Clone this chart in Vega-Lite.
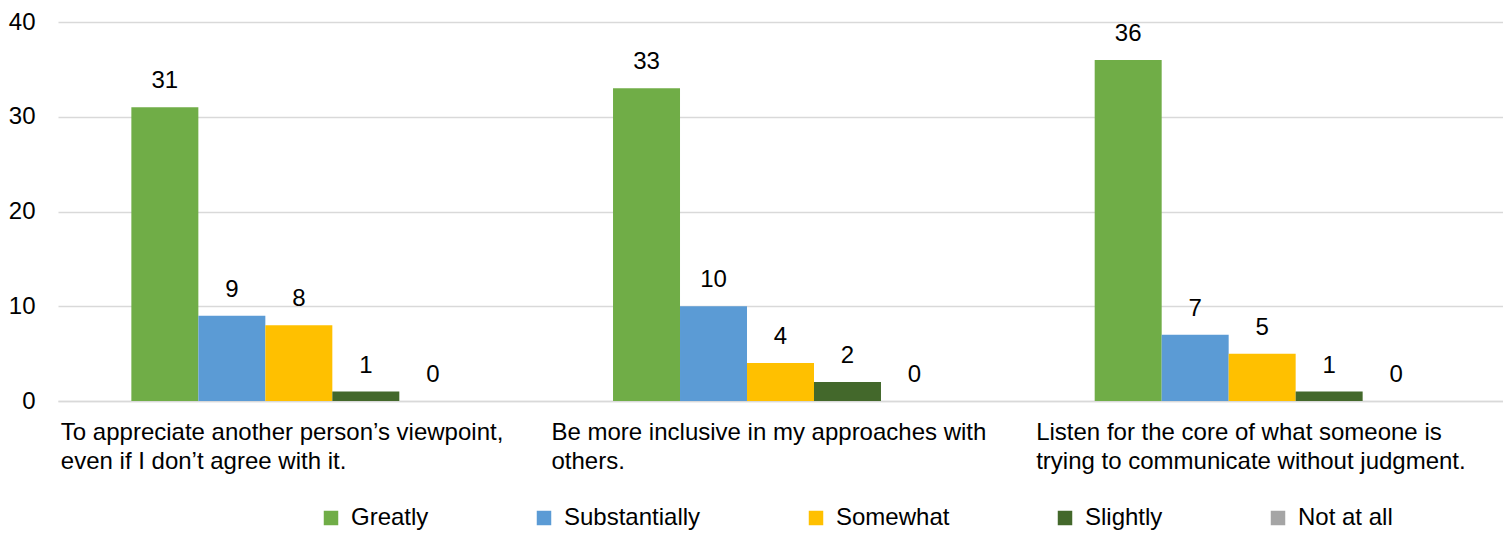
{
  "$schema": "https://vega.github.io/schema/vega-lite/v6.json",
  "width": 1445,
  "height": 379,
  "autosize": "none",
  "padding": {"left": 58, "top": 22, "right": 0, "bottom": 133},
  "background": "white",
  "config": {
    "font": "Liberation Sans",
    "view": {"stroke": null}
  },
  "data": {
    "values": [
      {"q": "To appreciate another person’s viewpoint, even if I don’t agree with it.", "level": "Greatly", "value": 31},
      {"q": "To appreciate another person’s viewpoint, even if I don’t agree with it.", "level": "Substantially", "value": 9},
      {"q": "To appreciate another person’s viewpoint, even if I don’t agree with it.", "level": "Somewhat", "value": 8},
      {"q": "To appreciate another person’s viewpoint, even if I don’t agree with it.", "level": "Slightly", "value": 1},
      {"q": "To appreciate another person’s viewpoint, even if I don’t agree with it.", "level": "Not at all", "value": 0},
      {"q": "Be more inclusive in my approaches with others.", "level": "Greatly", "value": 33},
      {"q": "Be more inclusive in my approaches with others.", "level": "Substantially", "value": 10},
      {"q": "Be more inclusive in my approaches with others.", "level": "Somewhat", "value": 4},
      {"q": "Be more inclusive in my approaches with others.", "level": "Slightly", "value": 2},
      {"q": "Be more inclusive in my approaches with others.", "level": "Not at all", "value": 0},
      {"q": "Listen for the core of what someone is trying to communicate without judgment.", "level": "Greatly", "value": 36},
      {"q": "Listen for the core of what someone is trying to communicate without judgment.", "level": "Substantially", "value": 7},
      {"q": "Listen for the core of what someone is trying to communicate without judgment.", "level": "Somewhat", "value": 5},
      {"q": "Listen for the core of what someone is trying to communicate without judgment.", "level": "Slightly", "value": 1},
      {"q": "Listen for the core of what someone is trying to communicate without judgment.", "level": "Not at all", "value": 0}
    ]
  },
  "encoding": {
    "x": {
      "field": "q",
      "type": "nominal",
      "sort": null,
      "title": null,
      "scale": {"paddingInner": 0.3046, "paddingOuter": 0.1523},
      "axis": {
        "labelAngle": 0,
        "labelAlign": "left",
        "labelBaseline": "top",
        "labelOffset": {"expr": "slice(datum.value, 0, 2) == 'To' ? -238 : slice(datum.value, 0, 2) == 'Be' ? -229 : -226"},
        "labelPadding": 19,
        "labelFontSize": 24,
        "labelLineHeight": 29,
        "labelColor": "#000000",
        "labelLimit": 0,
        "labelBound": false,
        "labelOverlap": false,
        "ticks": false,
        "domainColor": "#d9d9d9",
        "domainWidth": 1.5,
        "labelExpr": "datum.value == 'To appreciate another person’s viewpoint, even if I don’t agree with it.' ? ['To appreciate another person’s viewpoint,', 'even if I don’t agree with it.'] : datum.value == 'Be more inclusive in my approaches with others.' ? ['Be more inclusive in my approaches with', 'others.'] : ['Listen for the core of what someone is', 'trying to communicate without judgment.']"
      }
    },
    "xOffset": {
      "field": "level",
      "type": "nominal",
      "sort": ["Greatly", "Substantially", "Somewhat", "Slightly", "Not at all"],
      "scale": {"paddingInner": 0, "paddingOuter": 0}
    },
    "y": {
      "field": "value",
      "type": "quantitative",
      "title": null,
      "scale": {"domain": [0, 40], "nice": false},
      "axis": {
        "values": [0, 10, 20, 30, 40],
        "domain": false,
        "ticks": false,
        "labelPadding": 23,
        "labelFontSize": 24,
        "labelColor": "#000000",
        "gridColor": "#d9d9d9",
        "gridWidth": 1.5
      }
    }
  },
  "layer": [
    {
      "mark": {"type": "bar"},
      "encoding": {
        "color": {
          "field": "level",
          "type": "nominal",
          "title": null,
          "scale": {
            "domain": ["Greatly", "Substantially", "Somewhat", "Slightly", "Not at all"],
            "range": ["#70AD47", "#5B9BD5", "#FFC000", "#43682B", "#A5A5A5"]
          },
          "legend": {
            "orient": "none",
            "direction": "horizontal",
            "legendX": 261,
            "legendY": 484,
            "symbolType": "square",
            "symbolSize": 210,
            "symbolStrokeWidth": 0,
            "symbolOffset": 0,
            "labelFontSize": 24,
            "labelColor": "#000000",
            "labelOffset": 8,
            "columnPadding": 103,
            "labelLimit": 0
          }
        }
      }
    },
    {
      "mark": {"type": "text", "baseline": "alphabetic", "dy": -19, "fontSize": 24, "color": "#000000"},
      "encoding": {
        "text": {"field": "value", "type": "quantitative"}
      }
    }
  ]
}
